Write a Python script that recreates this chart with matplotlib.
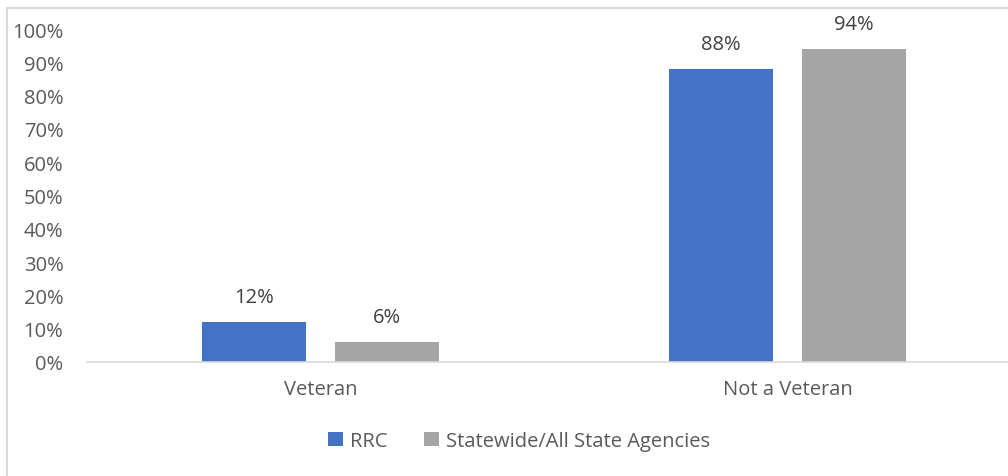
import matplotlib.pyplot as plt
from matplotlib.patches import Rectangle
import numpy as np

categories = ["Veteran", "Not a Veteran"]
rrc = [0.12, 0.88]
statewide = [0.06, 0.94]
series_names = ["RRC", "Statewide/All State Agencies"]
yticks = np.arange(0, 1.01, 0.1)

blue = "#4472C4"
gray = "#A5A5A5"
fs = 14.5
plt.rcParams['font.family'] = ['Open Sans', 'DejaVu Sans']

fig = plt.figure(figsize=(10.08, 4.77), dpi=100)
# outer chart border (cropped on right and bottom)
fig.patches.append(Rectangle((7 / 1008, -0.1), 1.2, 1 - 9 / 477 + 0.1,
                             transform=fig.transFigure, fill=False,
                             edgecolor="#D9D9D9", linewidth=1.5))

ax = fig.add_axes([87 / 1008, 114 / 477, 921 / 1008, 333 / 477])
x = np.arange(len(categories))
w = 0.2227
off = 0.1424
b1 = ax.bar(x - off, rrc, w, color=blue, label=series_names[0])
b2 = ax.bar(x + off, statewide, w, color=gray, label=series_names[1])

for bars, vals in ((b1, rrc), (b2, statewide)):
    for r, v in zip(bars, vals):
        ax.annotate(f"{v:.0%}", (r.get_x() + r.get_width() / 2, v),
                    xytext=(0, 18), textcoords="offset points",
                    ha="center", va="center", fontsize=fs, color="#404040")

ax.set_xlim(-0.5, 1.472)
ax.set_ylim(0, 1)
ax.set_yticks(yticks)
ax.set_yticklabels([f"{t:.0%}" for t in yticks], fontsize=fs, color="#595959")
ax.set_xticks(x)
ax.set_xticklabels(categories, fontsize=fs, color="#595959")
ax.tick_params(axis="y", length=0, pad=17)
ax.tick_params(axis="x", length=0, pad=12)
for s in ("top", "right", "left"):
    ax.spines[s].set_visible(False)
ax.spines["bottom"].set_color("#D9D9D9")
ax.spines["bottom"].set_linewidth(1.2)

leg = fig.legend(loc="center", bbox_to_anchor=(519 / 1008, 1 - 442 / 477),
                 ncol=2, frameon=False, fontsize=fs, handlelength=0.75,
                 handleheight=0.75, handletextpad=0.35, columnspacing=1.8)
for t in leg.get_texts():
    t.set_color("#595959")

fig.savefig("out.png", dpi=100)
